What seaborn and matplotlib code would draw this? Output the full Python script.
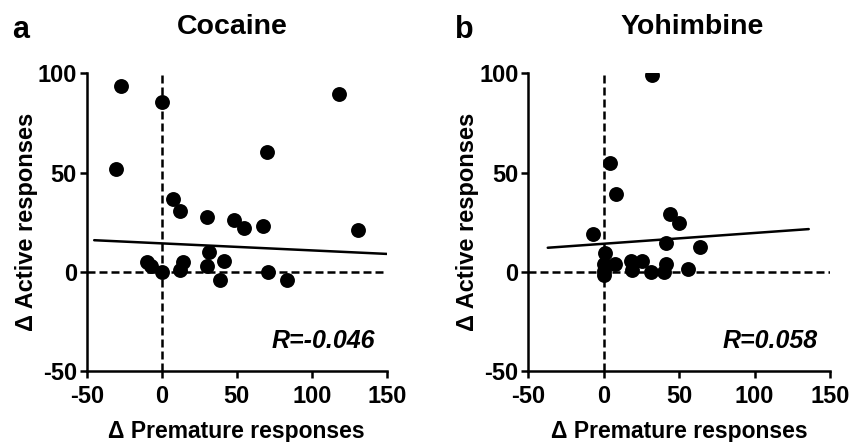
import pandas as pd
import matplotlib.pyplot as plt
import seaborn as sns

# Cocaine: change in premature vs active responses
coc_premature = [-27.3, -30.4, 0.0, 118.2, 70.0, 7.3, 12.2, 30.0, 48.4, 55.1, 67.3, 131.0,
                 -10.0, -7.3, 0.4, 12.2, 14.4, 31.5, 30.4, 41.8, 38.9, 70.7, 83.3]
coc_active = [93.8, 51.8, 85.4, 89.6, 60.1, 36.9, 30.7, 27.8, 26.0, 22.1, 22.9, 20.9,
              4.8, 2.8, 0.0, 0.8, 4.8, 9.9, 2.8, 5.3, -3.9, 0.0, -4.2]
coc_fit_x = [-45.0, 150.0]
coc_fit_y = [15.9, 9.0]
coc_r = "R=-0.046"

# Yohimbine
yoh_premature = [32.0, 4.4, 8.2, -7.0, 43.8, 50.2, 41.6, 64.1, 1.1, 0.0, 0.0, 0.0,
                 7.8, 18.2, 18.8, 25.4, 31.6, 41.6, 40.2, 55.7]
yoh_active = [99.2, 55.0, 39.0, 18.8, 28.9, 24.7, 14.6, 12.6, 9.6, 3.7, 0.3, -1.4,
              3.9, 5.3, 0.7, 5.3, -0.2, 4.0, 0.0, 1.5]
yoh_fit_x = [-37.1, 135.9]
yoh_fit_y = [12.1, 21.5]
yoh_r = "R=0.058"

x_ticks = [-50, 0, 50, 100, 150]
y_ticks = [-50, 0, 50, 100]

sns.set_style("ticks")
plt.rcParams['font.family'] = ['Liberation Sans', 'DejaVu Sans']
plt.rcParams['font.weight'] = 'bold'
plt.rcParams['text.color'] = 'black'
plt.rcParams['axes.labelcolor'] = 'black'
plt.rcParams['xtick.color'] = 'black'
plt.rcParams['ytick.color'] = 'black'

W, H = 861, 442
fig = plt.figure(figsize=(W / 100, H / 100), dpi=100)

panels = [
    ("a", "Cocaine", coc_premature, coc_active, coc_fit_x, coc_fit_y, coc_r, 86.7, 300.0, 12, 232),
    ("b", "Yohimbine", yoh_premature, yoh_active, yoh_fit_x, yoh_fit_y, yoh_r, 528.3, 301.7, 455, 692),
]

ax_h = 371 - 73.3
for letter, title, xs, ys, fit_x, fit_y, rtxt, left, width, lx, tx in panels:
    ax = fig.add_axes([left / W, 1 - 371 / H, width / W, ax_h / H])
    df = pd.DataFrame({'premature': xs, 'active': ys})

    ax.axhline(0, color='black', ls=(0, (3.2, 1.6)), lw=1.8, zorder=1)
    ax.axvline(0, color='black', ls=(0, (3.2, 1.6)), lw=1.8, zorder=1)

    # regression line as drawn in the figure
    sns.lineplot(x=fit_x, y=fit_y, color='black', lw=1.8, ax=ax, zorder=2)

    sns.scatterplot(data=df, x='premature', y='active', color='black', s=115,
                    edgecolor='black', linewidth=0, ax=ax, zorder=3)

    ax.set_xlim(-50, 150)
    ax.set_ylim(-50, 100)
    ax.set_xticks(x_ticks)
    ax.set_yticks(y_ticks)
    ax.set_xticklabels([str(t) for t in x_ticks], fontsize=17, fontweight='bold')
    ax.set_yticklabels([str(t) for t in y_ticks], fontsize=17, fontweight='bold')
    ax.tick_params(width=1.8, length=5, color='black')
    ax.tick_params(axis='x', pad=5)
    ax.tick_params(axis='y', pad=2)
    for sp in ['left', 'bottom']:
        ax.spines[sp].set_linewidth(1.8)
        ax.spines[sp].set_color('black')
    sns.despine(ax=ax)

    ax.set_xlabel("Δ Premature responses", fontsize=16.5, fontweight='bold', va='baseline')
    ax.xaxis.set_label_coords(0.5, -(438 - 371) / ax_h)
    ax.set_ylabel("Δ Active responses", fontsize=17, fontweight='bold', va='center')
    ax.yaxis.set_label_coords(-0.2, 0.5)

    ax.text(0.96, 0.1, rtxt, transform=ax.transAxes, ha='right', va='center',
            fontsize=18, fontweight='bold', style='italic')

    fig.text(lx / W, 1 - 38 / H, letter, fontsize=22, fontweight='bold', va='baseline')
    fig.text(tx / W, 1 - 34 / H, title, fontsize=20.5, fontweight='bold',
             ha='center', va='baseline')

fig.savefig("out.png", dpi=100)
